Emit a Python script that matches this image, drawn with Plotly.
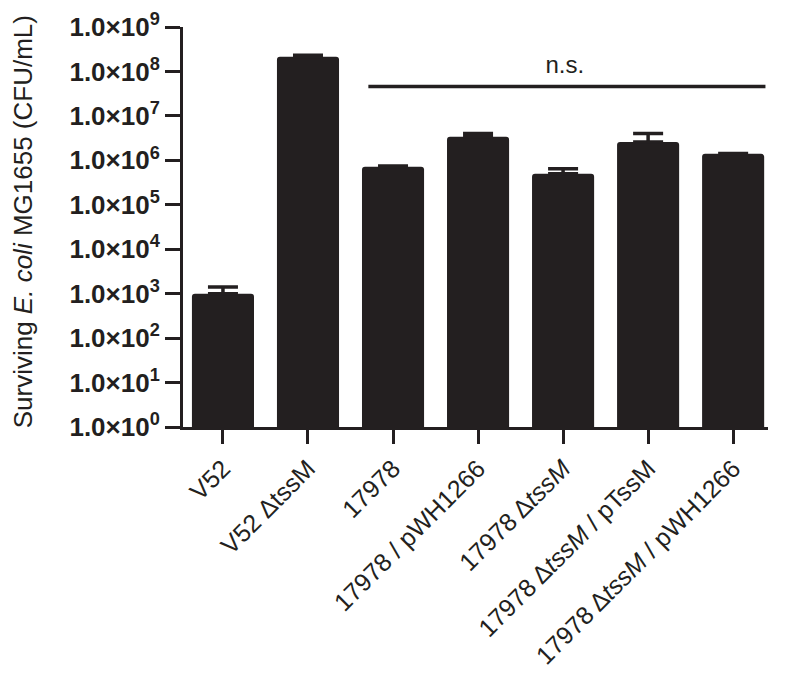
import plotly.graph_objects as go

categories = ["V52", "V52 ΔtssM", "17978", "17978 / pWH1266",
              "17978 Δ<i>tssM</i>", "17978 Δ<i>tssM</i> / pTssM",
              "17978 Δ<i>tssM</i> / pWH1266"]
values = [1.0e3, 2.15e8, 7.2e5, 3.4e6, 5.0e5, 2.6e6, 1.4e6]
upper = [1.42e3, 2.3e8, 7.5e5, 4.0e6, 6.5e5, 4.0e6, 1.42e6]
ytick_vals = [10 ** k for k in range(10)]
ytick_text = ["<b>1.0×10<sup>%d</sup></b>" % k for k in range(10)]
ns_x = [1.71, 6.38]
ns_y = 10 ** 7.66
ns_label = "n.s."

xpos = list(range(len(categories)))
err_plus = [u - v for u, v in zip(upper, values)]
INK = "#231f20"
FONT = "Liberation Sans, Arial, sans-serif"

fig = go.Figure()
fig.add_trace(go.Bar(
    x=xpos, y=values, width=0.73,
    marker=dict(color=INK, line=dict(width=0), cornerradius=3),
    error_y=dict(type="data", array=err_plus, arrayminus=[0] * len(values),
                 symmetric=False, color=INK, thickness=3.5, width=15),
    showlegend=False,
))
fig.add_trace(go.Scatter(
    x=ns_x, y=[ns_y, ns_y], mode="lines",
    line=dict(color=INK, width=3.5), showlegend=False,
))
fig.add_trace(go.Scatter(
    x=[4.02], y=[10 ** 8.09], mode="text", text=[ns_label],
    textfont=dict(family=FONT, size=24, color=INK),
    showlegend=False,
))

# page body has an 8px margin; size the figure so it fits the 786x686 window
fig.update_layout(
    width=770, height=670,
    margin=dict(l=175, r=10, t=19, b=251),
    plot_bgcolor="white", paper_bgcolor="white",
    font=dict(family=FONT, color=INK),
)
fig.update_xaxes(
    range=[-0.47, 6.41], tickvals=xpos, ticktext=categories,
    tickangle=-45, tickfont=dict(family=FONT, size=25, color=INK),
    showline=True, linewidth=3, linecolor=INK,
    ticks="outside", ticklen=14, tickwidth=3, tickcolor=INK,
    showgrid=False, zeroline=False, automargin=False,
)
fig.update_yaxes(
    type="log", range=[0, 9], tickvals=ytick_vals, ticktext=ytick_text,
    tickfont=dict(family=FONT, size=26, color=INK),
    showline=True, linewidth=3, linecolor=INK,
    ticks="outside", ticklen=15, tickwidth=3, tickcolor=INK,
    showgrid=False, zeroline=False, automargin=False,
)
fig.add_annotation(
    xref="paper", yref="paper", x=-0.273, y=0.5125,
    text="Surviving <i>E. coli</i> MG1655 (CFU/mL)", textangle=-90,
    showarrow=False, font=dict(family=FONT, size=26, color=INK),
    xanchor="center", yanchor="middle",
)
fig.write_html("out.html")
